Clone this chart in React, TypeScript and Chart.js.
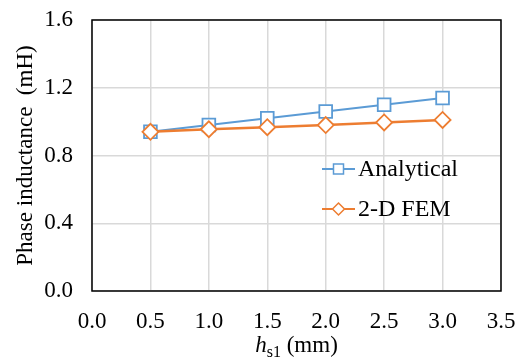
import React, { useEffect, useRef } from "react";
import { Chart, registerables } from "chart.js";

Chart.register(...registerables);

const hValues = [0.5, 1.0, 1.5, 2.0, 2.5, 3.0];
const analytical = [0.94, 0.98, 1.02, 1.06, 1.1, 1.14];
const fem = [0.94, 0.955, 0.967, 0.98, 0.995, 1.01];
const seriesNames = ["Analytical", "2-D FEM"];
const seriesColors = ["#5B9BD5", "#ED7D31"];
const yTitle = "Phase inductance\u2002(mH)";

const FONT = "'Liberation Serif', 'Times New Roman', serif";

const decorPlugin = {
  id: "decor",
  afterDatasetsDraw(chart: any) {
    const { ctx, chartArea } = chart;
    const { left, right, top, bottom } = chartArea;
    ctx.save();
    // frame
    ctx.strokeStyle = "#000";
    ctx.lineWidth = 1.5;
    ctx.strokeRect(left, top, right - left, bottom - top);

    // y title
    ctx.fillStyle = "#000";
    ctx.font = `23px ${FONT}`;
    ctx.textAlign = "center";
    ctx.textBaseline = "middle";
    ctx.translate(26, (top + bottom) / 2);
    ctx.rotate(-Math.PI / 2);
    ctx.fillText(yTitle, 0, 0);
    ctx.setTransform(1, 0, 0, 1, 0, 0);

    // x title: h_s1 (mm)
    const baseline = 352;
    ctx.textBaseline = "alphabetic";
    ctx.textAlign = "left";
    const fH = `italic 23px ${FONT}`;
    const fS = `16px ${FONT}`;
    const fN = `23px ${FONT}`;
    ctx.font = fH;
    const wH = ctx.measureText("h").width;
    ctx.font = fS;
    const wS = ctx.measureText("s1").width;
    ctx.font = fN;
    const wN = ctx.measureText(" (mm)").width;
    const total = wH + wS + wN;
    let x = (left + right) / 2 - total / 2;
    ctx.font = fH;
    ctx.fillText("h", x, baseline);
    x += wH;
    ctx.font = fS;
    ctx.fillText("s1", x, baseline + 5);
    x += wS;
    ctx.font = fN;
    ctx.fillText(" (mm)", x, baseline);

    // legend
    const legendY = [169, 209];
    const lx0 = 322;
    const lx1 = 355;
    ctx.font = `24px ${FONT}`;
    ctx.textBaseline = "middle";
    legendY.forEach((ly, i) => {
      ctx.strokeStyle = seriesColors[i];
      ctx.lineWidth = 2;
      ctx.beginPath();
      ctx.moveTo(lx0, ly);
      ctx.lineTo(lx1, ly);
      ctx.stroke();
      const cx = (lx0 + lx1) / 2;
      ctx.fillStyle = "#fff";
      ctx.lineWidth = 1.5;
      ctx.beginPath();
      if (i === 0) {
        ctx.rect(cx - 5, ly - 5, 10, 10);
      } else {
        ctx.moveTo(cx, ly - 6);
        ctx.lineTo(cx + 6, ly);
        ctx.lineTo(cx, ly + 6);
        ctx.lineTo(cx - 6, ly);
        ctx.closePath();
      }
      ctx.fill();
      ctx.stroke();
      ctx.fillStyle = "#000";
      ctx.fillText(seriesNames[i], lx1 + 3, ly + 1);
    });
    ctx.restore();
  },
};

export default function App() {
  const ref = useRef<HTMLCanvasElement>(null);
  useEffect(() => {
    const chart = new Chart(ref.current!, {
      type: "line",
      data: {
        datasets: [
          {
            label: seriesNames[0],
            data: hValues.map((h, i) => ({ x: h, y: analytical[i] })),
            borderColor: seriesColors[0],
            backgroundColor: "#fff",
            borderWidth: 2,
            pointStyle: "rect",
            pointRadius: 9,
            pointBorderWidth: 1.8,
            order: 1,
          },
          {
            label: seriesNames[1],
            data: hValues.map((h, i) => ({ x: h, y: fem[i] })),
            borderColor: seriesColors[1],
            backgroundColor: "#fff",
            borderWidth: 2.5,
            pointStyle: "rectRot",
            pointRadius: 8,
            pointBorderWidth: 1.8,
            order: 0,
          },
        ],
      },
      options: {
        animation: false,
        responsive: false,
        layout: { padding: { top: 20, right: 29, left: 0, bottom: 0 } },
        plugins: { legend: { display: false }, tooltip: { enabled: false } },
        scales: {
          x: {
            type: "linear",
            min: 0,
            max: 3.5,
            ticks: {
              stepSize: 0.5,
              padding: 17,
              color: "#000",
              font: { family: FONT, size: 23 },
              callback: (v: any) => Number(v).toFixed(1),
            },
            grid: { color: "#d9d9d9", lineWidth: 1.5, drawTicks: false },
            border: { display: false },
            afterFit: (s: any) => {
              s.height = 71;
              s.paddingLeft = 0;
              s.paddingRight = 0;
              s.paddingTop = 0;
              s.paddingBottom = 0;
            },
          },
          y: {
            min: 0,
            max: 1.6,
            ticks: {
              stepSize: 0.4,
              padding: 19,
              color: "#000",
              font: { family: FONT, size: 23 },
              callback: (v: any) => Number(v).toFixed(1),
            },
            grid: { color: "#d9d9d9", lineWidth: 1.5, drawTicks: false },
            border: { display: false },
            afterFit: (s: any) => {
              s.width = 92;
              s.paddingLeft = 0;
              s.paddingRight = 0;
              s.paddingTop = 0;
              s.paddingBottom = 0;
            },
          },
        },
      },
      plugins: [decorPlugin],
    } as any);
    return () => chart.destroy();
  }, []);
  return (
    <div style={{ position: "fixed", left: 0, top: 0, width: 530, height: 362, background: "#fff" }}>
      <canvas ref={ref} width={530} height={362} />
    </div>
  );
}
